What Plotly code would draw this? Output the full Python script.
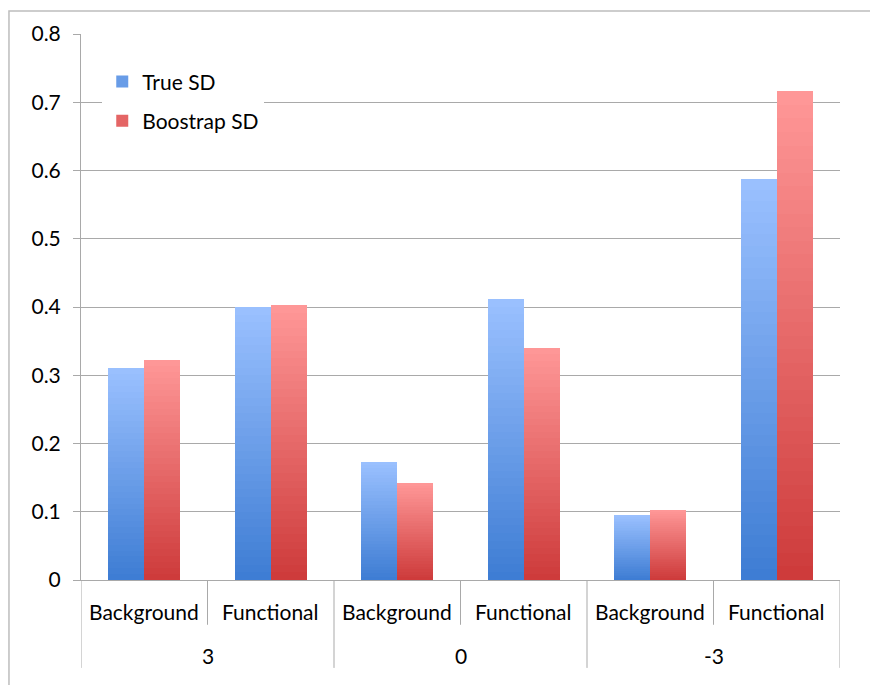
import plotly.graph_objects as go

# ---- data -------------------------------------------------------------
groups = ["3", "0", "-3"]
kinds = ["Background", "Functional"]
true_sd = [0.310, 0.400, 0.173, 0.412, 0.095, 0.588]
boot_sd = [0.323, 0.403, 0.142, 0.340, 0.103, 0.716]
series_names = ["True SD", "Boostrap SD"]
y_ticks = [0, 0.1, 0.2, 0.3, 0.4, 0.5, 0.6, 0.7, 0.8]

# ---- styling ----------------------------------------------------------
FONT = "Lato"
FS = 21
GRID = "#A9A9A9"
BAR_W = 0.285
N_STEPS = 36  # vertical gradient resolution per bar

grad = {
    "True SD": ((0x3D, 0x7C, 0xD3), (0x9B, 0xC1, 0xFF)),
    "Boostrap SD": ((0xCD, 0x3A, 0x3A), (0xFF, 0x98, 0x98)),
}


def mix(c0, c1, t):
    return "rgb({},{},{})".format(*[round(a + (b - a) * t) for a, b in zip(c0, c1)])


n_cat = len(groups) * len(kinds)
xpos = list(range(n_cat))

fig = go.Figure()

# Each bar is painted as a stack of nested bars from the baseline, tallest
# (lightest) first, so the visible bands form a dark-to-light vertical gradient.
for s_idx, (name, vals) in enumerate(zip(series_names, [true_sd, boot_sd])):
    bottom, top = grad[name]
    offset = -BAR_W if s_idx == 0 else 0.0
    legend_step = int(N_STEPS * 0.45)
    for k in reversed(range(N_STEPS)):
        frac = (k + 1) / N_STEPS
        col = mix(bottom, top, (k + 0.5) / N_STEPS)
        fig.add_trace(go.Bar(
            x=xpos,
            y=[v * frac for v in vals],
            width=BAR_W,
            offset=offset,
            marker=dict(color=col, line=dict(width=0)),
            name=name,
            legendgroup=name,
            showlegend=(k == legend_step),
            hoverinfo="skip",
        ))

# ---- x-axis category labels and dividers -----------------------------
annotations = []
shapes = []
for i in range(n_cat):
    annotations.append(dict(
        x=i, y=-0.057, xref="x", yref="paper", text=kinds[i % len(kinds)],
        showarrow=False, xanchor="center", yanchor="middle",
        font=dict(family=FONT, size=FS, color="#000000"),
    ))
for g, label in enumerate(groups):
    annotations.append(dict(
        x=g * len(kinds) + (len(kinds) - 1) / 2, y=-0.138, xref="x", yref="paper",
        text=label, showarrow=False, xanchor="center", yanchor="middle",
        font=dict(family=FONT, size=FS, color="#000000"),
    ))

for b in range(n_cat + 1):
    xb = b - 0.5
    is_group_edge = (b % len(kinds) == 0)
    shapes.append(dict(
        type="line", xref="x", yref="paper", x0=xb, x1=xb,
        y0=0, y1=(-0.161 if is_group_edge else -0.082),
        line=dict(color=GRID, width=1),
    ))

# outer chart frame
shapes.append(dict(
    type="rect", xref="paper", yref="paper",
    x0=-0.0949, x1=1.3, y0=-0.4, y1=1.042,
    line=dict(color="#BDBDBD", width=1.5), fillcolor="rgba(0,0,0,0)",
    layer="below",
))

fig.update_layout(
    width=870, height=685,
    margin=dict(l=81, r=30, t=34, b=105),
    paper_bgcolor="white", plot_bgcolor="white",
    barmode="overlay",
    bargap=0,
    font=dict(family=FONT, size=FS, color="#000000"),
    showlegend=True,
    legend=dict(
        x=0.028, y=0.95, xanchor="left", yanchor="top",
        bgcolor="white", borderwidth=0,
        traceorder="grouped", tracegroupgap=9,
        font=dict(family=FONT, size=FS, color="#000000"),
    ),
    xaxis=dict(
        range=[-0.5, n_cat - 0.5],
        showticklabels=False, showgrid=False, zeroline=False,
        showline=True, linecolor=GRID, linewidth=1,
        ticks="", fixedrange=True,
    ),
    yaxis=dict(
        range=[0, 0.8], tickvals=y_ticks,
        ticktext=[("%g" % v) for v in y_ticks],
        showgrid=True, gridcolor=GRID, gridwidth=1,
        zeroline=False, showline=True, linecolor=GRID, linewidth=1,
        ticks="outside", ticklen=7, tickcolor=GRID, tickwidth=1,
        ticklabelstandoff=8,
        tickfont=dict(family=FONT, size=FS, color="#000000"),
    ),
    annotations=annotations,
    shapes=shapes,
)

fig.write_html("out.html")
